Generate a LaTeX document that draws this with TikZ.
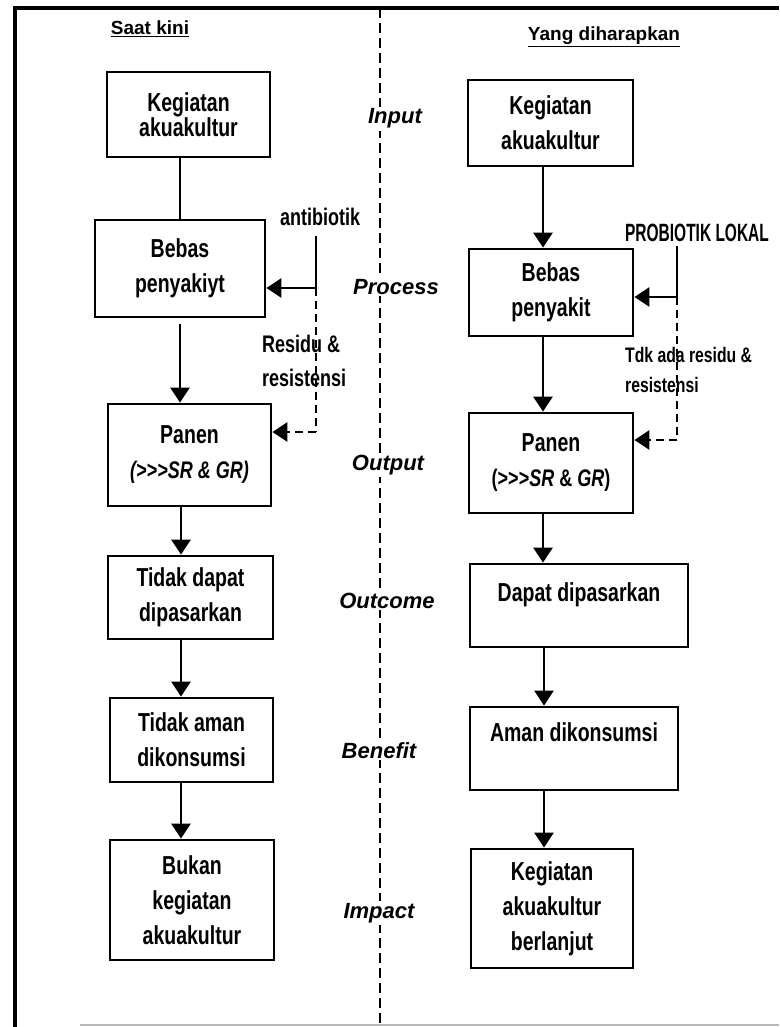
\documentclass[tikz,border=0pt]{standalone}
\usepackage{fontspec}
\setmainfont{Liberation Sans}
\newfontfamily\nf{Liberation Sans}[FakeStretch=0.75]
\newfontfamily\nfc{Liberation Sans}[FakeStretch=0.62]
\usetikzlibrary{arrows.meta}
\tikzset{
  box/.style={draw, line width=2.8pt, inner sep=0pt, align=center,
    font=\nf\bfseries\fontsize{26}{35}\selectfont},
  conn/.style={line width=2.8pt},
  arr/.style={line width=2.8pt, -{Triangle[width=19pt,length=15pt]}},
  dsh/.style={dash pattern=on 8pt off 5pt},
  lbl/.style={inner sep=0pt, font=\nf\bfseries\fontsize{24}{34}\selectfont},
  mid/.style={fill=white, inner sep=2pt, anchor=base,
    font=\bfseries\itshape\fontsize{22}{26}\selectfont},
  head/.style={inner sep=0pt, font=\bfseries\fontsize{19}{22}\selectfont}
}
\begin{document}
\begin{tikzpicture}[x=1pt,y=-1pt]
\useasboundingbox (0,0) rectangle (779,1027);
% frame
\draw[line width=4pt] (14.5,1027) -- (14.5,8.5) -- (779,8.5);
\draw[gray!55, line width=1.5pt] (80,1025) -- (779,1025);
% central dashed divider
\draw[line width=2.8pt, dash pattern=on 10pt off 5pt] (380,8) -- (380,1027);
% headings
\node[head] (h1) at (150,29) {\underline{Saat kini}};
\node[head] (h2) at (604,37) {\underline{Yang diharapkan}};
% middle labels
\node[mid] (m1) at (395,124) {Input};
\node[mid] (m2) at (396,294) {Process};
\node[mid] (m3) at (388,470) {Output};
\node[mid] (m4) at (387,608) {Outcome};
\node[mid] (m5) at (379,758) {Benefit};
\node[mid] (m6) at (379,918) {Impact};
% left column boxes
\node[box, minimum width=163pt, minimum height=85pt, font=\nf\bfseries\fontsize{26}{23}\selectfont] (L1) at (188.5,114.5) {Kegiatan\\akuakultur};
\node[box, minimum width=170pt, minimum height=97pt] (L2) at (180,268.5) {Bebas\\penyakiyt};
\node[box, minimum width=163pt, minimum height=102pt] (L3) at (189.5,455) {Panen\\{\fontsize{24}{34}\selectfont\itshape(>>>SR \& GR)}};
\node[box, minimum width=165pt, minimum height=83pt] (L4) at (190.5,597.5) {Tidak dapat\\dipasarkan};
\node[box, minimum width=163pt, minimum height=84pt] (L5) at (191.5,740) {Tidak aman\\dikonsumsi};
\node[box, minimum width=164pt, minimum height=120pt] (L6) at (192,900) {Bukan\\kegiatan\\akuakultur};
% right column boxes
\node[box, minimum width=165pt, minimum height=86pt] (R1) at (550.5,123) {Kegiatan\\akuakultur};
\node[box, minimum width=164pt, minimum height=87pt] (R2) at (551,292.5) {Bebas\\penyakit};
\node[box, minimum width=164pt, minimum height=100pt] (R3) at (551,463) {Panen\\{\fontsize{24}{34}\selectfont(>>>\textit{SR} \& \textit{GR})}};
\node[box, minimum width=218pt, minimum height=83pt, text depth=26pt] (R4) at (579,605.5) {Dapat dipasarkan};
\node[box, minimum width=208pt, minimum height=83pt, text depth=32pt] (R5) at (574,748.5) {Aman dikonsumsi};
\node[box, minimum width=162pt, minimum height=119pt] (R6) at (552,908.5) {Kegiatan\\akuakultur\\berlanjut};
% column axes
\coordinate (lx) at (180,0);
\coordinate (lx2) at (181,0);
\coordinate (rx) at (543,0);
\coordinate (rx2) at (544,0);
% left flow
\draw[conn] (L1.south -| lx) -- (L2.north -| lx);
\draw[arr] ([yshift=-6pt]L2.south -| lx) -- (L3.north -| lx);
\draw[arr] (L3.south -| lx2) -- (L4.north -| lx2);
\draw[arr] (L4.south -| lx2) -- (L5.north -| lx2);
\draw[arr] (L5.south -| lx2) -- (L6.north -| lx2);
% right flow
\draw[arr] (R1.south -| rx) -- (R2.north -| rx);
\draw[arr] (R2.south -| rx) -- (R3.north -| rx);
\draw[arr] (R3.south -| rx) -- (R4.north -| rx);
\draw[arr] (R4.south -| rx2) -- (R5.north -| rx2);
\draw[arr] (R5.south -| rx2) -- (R6.north -| rx2);
% antibiotik branch
\node[lbl] (anti) at (320,217) {antibiotik};
\coordinate (at) at (316,236);
\coordinate (aj) at (316,288);
\coordinate (ad) at (316,432);
\draw[conn] (at) -- (aj);
\draw[arr] (aj) -- (aj -| L2.east);
\draw[conn, dsh] (aj) -- (ad);
\draw[arr, dsh] (ad) -- (ad -| L3.east);
\node[lbl, anchor=north west, align=left] (res) at (262,335) {Residu \&\\resistensi};
% probiotik branch
\node[lbl, font=\nfc\bfseries\fontsize{25}{30}\selectfont] (prob) at (697,233) {PROBIOTIK LOKAL};
\coordinate (pt) at (677,246);
\coordinate (pj) at (677,297);
\coordinate (pd) at (677,440);
\draw[conn] (pt) -- (pj);
\draw[arr] (pj) -- (pj -| R2.east);
\draw[conn, dsh] (pj) -- (pd);
\draw[arr, dsh] (pd) -- (pd -| R3.east);
\node[lbl, anchor=north west, align=left, font=\nf\bfseries\fontsize{21}{30}\selectfont] (tdk) at (625,347) {Tdk ada residu \&\\resistensi};
\end{tikzpicture}
\end{document}
